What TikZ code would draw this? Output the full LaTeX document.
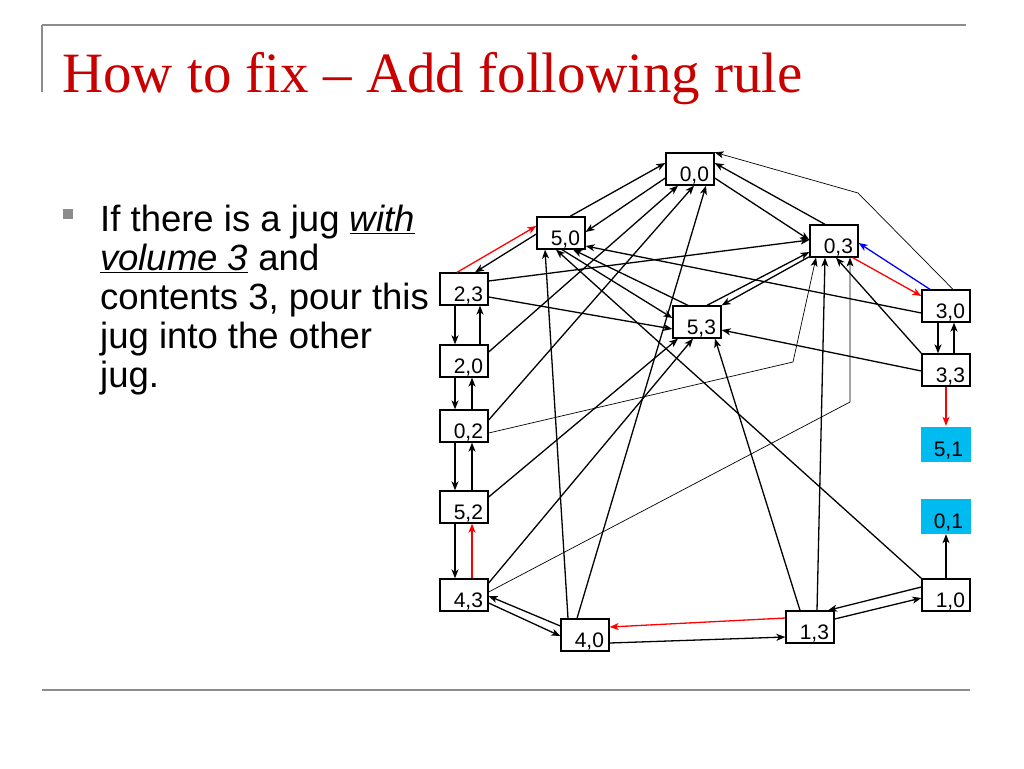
\documentclass[tikz,border=0pt]{standalone}
\usepackage{fontspec}
\setmainfont{Liberation Sans}
\newfontfamily\titlefont{Liberation Serif}
\usepackage{tikz}
\usetikzlibrary{
  arrows.meta,%
  calc
}
\definecolor{titlered}{RGB}{200,0,0}
\definecolor{goalcyan}{RGB}{0,187,240}
\definecolor{rulegray}{RGB}{140,140,140}
\newcommand{\jugfont}{\fontsize{21}{21}\selectfont}
\tikzset{>={Stealth[length=9pt,width=7pt,inset=2.5pt]}}
\tikzset{
  jugbox/.style={draw, fill=white, line width=1.3pt, text width=38pt,
    align=right, inner xsep=5pt, inner ysep=2.5pt, text height=26pt,
    text depth=1pt},
  goalbox/.style={jugbox, draw=none, fill=goalcyan, text width=34pt,
    inner xsep=8pt, inner ysep=4pt},
  move/.style={->, line width=1.3pt},
  thinmove/.style={->, line width=0.7pt},
  bodytext/.style={anchor=base west, inner sep=0pt,
    font=\fontsize{36.5}{40}\selectfont}
}

\begin{document}
\begin{tikzpicture}[x=1pt, y=-1pt]
  \useasboundingbox (0,0) rectangle (1024,768);
  % slide frame
  \draw[rulegray, line width=2.5pt] (42,25) -- (966,25);
  \draw[rulegray, line width=1.5pt] (42,25) -- (42,92);
  \draw[rulegray, line width=2pt] (42,690) -- (970,690);
  \node[anchor=base west, inner sep=0pt, text=titlered,
    font=\titlefont\fontsize{57}{60}\selectfont] (title) at (62,92)
    {How to fix – Add following rule};
  % bullet text
  \node[fill=rulegray, minimum size=10pt, inner sep=0pt] (bullet) at (68,214) {};
  \node[bodytext] (line1) at (100,231) {If there is a jug \underline{\textit{with}}};
  \node[bodytext] (line2) at (100,270) {\underline{\textit{volume 3}} and};
  \node[bodytext] (line3) at (100,309) {contents 3, pour this};
  \node[bodytext] (line4) at (100,348) {jug into the other};
  \node[bodytext] (line5) at (100,387) {jug.};
  % states
  \foreach \a/\b/\x/\y in {0/0/690/169, 5/0/561/233, 0/3/834/241, 2/3/464/289,
      5/3/697/322, 3/0/946/306, 2/0/464/361, 3/3/946/370, 0/2/464/426,
      5/2/464/507, 4/3/464/595, 1/0/946/595, 4/0/585/635, 1/3/810/627}
    \node[jugbox] (s\a\b) at (\x,\y) {\jugfont\a,\b};
  \node[goalbox] (s51) at (946,444) {\jugfont 5,1};
  \node[goalbox] (s01) at (946,516) {\jugfont 0,1};
  \coordinate (bend30) at (858,193);
  \coordinate (bend02) at (793,362);
  \coordinate (bend43) at (850,402);
  % left column
  \foreach \ua/\ub/\dx in {s23/s20/16, s20/s02/8, s02/s52/8} {
    \draw[move] ($(\ua.south)+(-9,0)$) -- ($(\ub.north)+(-9,0)$);
    \draw[move] ($(\ub.north)+(\dx,0)$) -- ($(\ua.south)+(\dx,0)$);
  }
  \draw[move] ($(s52.south)+(-9,0)$) -- ($(s43.north)+(-9,0)$);
  \draw[move, red] ($(s43.north)+(8,0)$) -- ($(s52.south)+(8,0)$);
  % into 0,0
  \draw[move] ($(s50.north)+(9,0)$) -- ($(s00.west)+(0,-6)$);
  \draw[move] ($(s00.west)+(0,9)$) -- ($(s50.east)+(0,-1)$);
  \draw[move] ($(s20.east)+(0,-9)$) -- ($(s00.south)+(-12,0)$);
  \draw[move] ($(s02.east)+(0,-6)$) -- ($(s00.south)+(4,0)$);
  \draw[move] ($(s40.north)+(-8,0)$) -- ($(s00.south)+(16,0)$);
  \draw[move] ($(s03.north)+(-9,0)$) -- ($(s00.east)+(0,-6)$);
  \draw[thinmove] ($(s30.north)+(7,0)$) -- (bend30) -- (s00.north east);
  \draw[move] ($(s00.east)+(0,9)$) -- ($(s03.west)+(0,-1)$);
  % around 5,0
  \draw[move] ($(s50.west)+(0,1)$) -- ($(s23.north)+(11,0)$);
  \draw[move, red] ($(s23.north)+(-7,0)$) -- ($(s50.west)+(0,-7)$);
  \draw[move] ($(s40.north)+(-17,0)$) -- ($(s50.south)+(-16,0)$);
  \draw[move] (s10.north west) -- ($(s50.south)+(-5,0)$);
  \draw[move] ($(s53.north)+(-9,0)$) -- ($(s50.south)+(12,0)$);
  \draw[move] ($(s50.south)+(1,0)$) -- ($(s53.west)+(0,-4)$);
  \draw[move] ($(s30.west)+(0,7)$) -- ($(s50.east)+(0,13)$);
  % around 0,3 and 5,3
  \draw[move] ($(s23.east)+(0,-8)$) -- ($(s03.west)+(0,-1)$);
  \draw[move] ($(s23.east)+(0,8)$) -- ($(s53.west)+(0,7)$);
  \draw[move] ($(s33.west)+(0,1)$) -- ($(s53.east)+(0,8)$);
  \draw[move] (s33.north west) -- ($(s03.south)+(2,0)$);
  \draw[thinmove] ($(s02.east)+(0,7)$) -- (bend02) -- ($(s03.south)+(-18,0)$);
  \draw[move] ($(s13.north)+(7,0)$) -- ($(s03.south)+(-9,0)$);
  \draw[thinmove] ($(s43.east)+(0,-3)$) -- (bend43) -- ($(s03.south)+(16,0)$);
  \draw[move, blue] ($(s30.north)+(-16,0)$) -- ($(s03.east)+(0,2)$);
  \draw[move, red] ($(s03.south east)+(-6,0)$) -- ($(s30.west)+(0,-10)$);
  \draw[move] ($(s53.north)+(10,0)$) -- ($(s03.west)+(0,11)$);
  \draw[move] ($(s03.south west)+(0,-1)$) -- (s53.north east);
  \draw[move] ($(s52.east)+(0,-10)$) -- ($(s53.south)+(-19,0)$);
  \draw[move] ($(s43.east)+(0,-12)$) -- ($(s53.south)+(-4,0)$);
  \draw[move] ($(s13.north)+(-10,0)$) -- ($(s53.south)+(18,0)$);
  % bottom row
  \draw[move] ($(s43.east)+(0,8)$) -- ($(s40.west)+(0,1)$);
  \draw[move] ($(s40.west)+(0,-9)$) -- ($(s43.east)+(0,1)$);
  \draw[move] ($(s40.east)+(0,8)$) -- ($(s13.west)+(0,10)$);
  \draw[move, red] ($(s13.west)+(0,-9)$) -- ($(s40.east)+(0,-8)$);
  \draw[move] ($(s13.east)+(0,-8)$) -- ($(s10.west)+(0,3)$);
  \draw[move] ($(s10.west)+(0,-8)$) -- ($(s13.north)+(18,0)$);
  % right column
  \draw[move] (s10.north) -- (s01.south);
  \draw[move, red] (s33.south) -- (s51.north);
  \draw[move] ($(s30.south)+(-8,0)$) -- ($(s33.north)+(-8,0)$);
  \draw[move] ($(s33.north)+(8,0)$) -- ($(s30.south)+(8,0)$);
\end{tikzpicture}
\end{document}
